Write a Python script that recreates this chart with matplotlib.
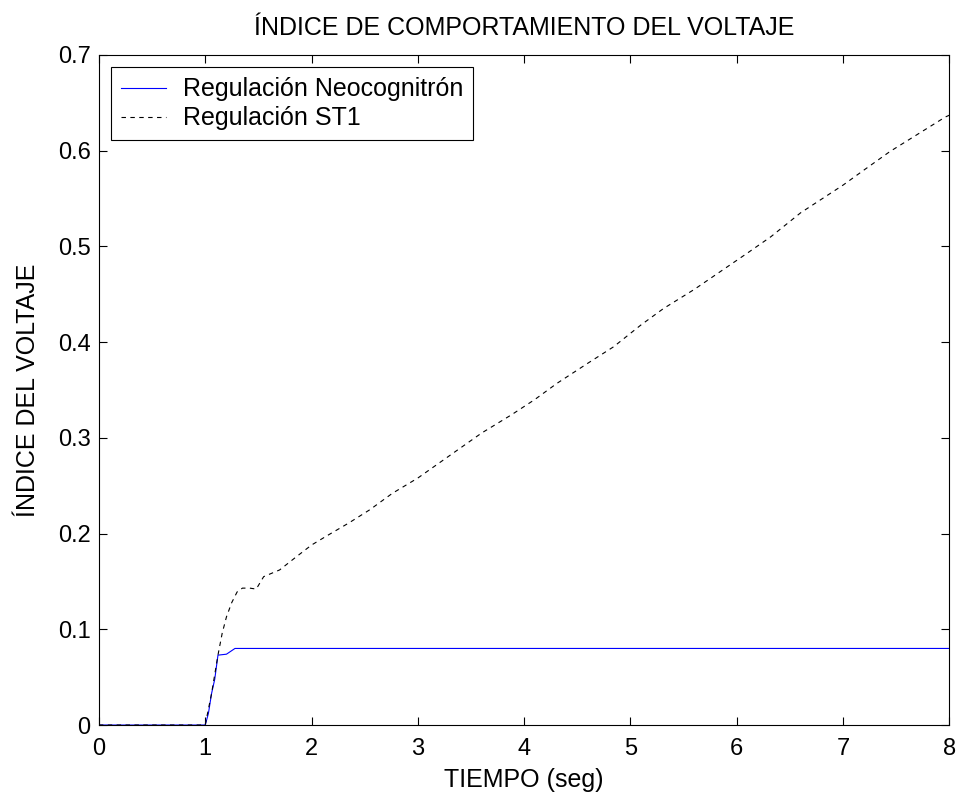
import matplotlib
matplotlib.use("Agg")
import matplotlib.pyplot as plt

plt.rcParams['font.family'] = ['Liberation Sans', 'DejaVu Sans']

# Regulacion Neocognitron
t_neo = [0, 1.0, 1.03, 1.06, 1.09, 1.12, 1.2, 1.28, 8.0]
v_neo = [0, 0, 0.012, 0.033, 0.048, 0.073, 0.074, 0.080, 0.080]

# Regulacion ST1
t_st1 = [0, 1.0, 1.06, 1.12, 1.16, 1.2, 1.25, 1.3, 1.35, 1.42, 1.48, 1.55, 1.7,
         1.86, 2.0, 2.15, 2.35, 2.55, 2.76, 3.0, 3.37, 3.6, 3.88, 4.1, 4.31, 4.6,
         4.84, 5.1, 5.31, 5.6, 5.85, 6.1, 6.32, 6.6, 7.0, 7.2, 7.44, 7.7, 7.96, 8.0]
v_st1 = [0, 0, 0.033, 0.073, 0.096, 0.113, 0.128, 0.139, 0.143, 0.143, 0.142,
         0.155, 0.162, 0.176, 0.188, 0.198, 0.211, 0.225, 0.242, 0.258, 0.287,
         0.305, 0.324, 0.34, 0.357, 0.378, 0.395, 0.418, 0.435, 0.455, 0.474,
         0.493, 0.51, 0.535, 0.564, 0.58, 0.599, 0.617, 0.635, 0.637]

fig = plt.figure(figsize=(9.6, 7.95), dpi=100)
ax = fig.add_axes([0.103, 0.088, 0.886, 0.843])

ax.plot(t_neo, v_neo, color='blue', lw=0.8, label='Regulación Neocognitrón')
ax.plot(t_st1, v_st1, color='black', lw=0.8, dashes=(4, 4), label='Regulación ST1')

ax.set_xlim(0, 8)
ax.set_ylim(0, 0.7)
ax.set_xticks(range(0, 9))
ax.set_yticks([0, 0.1, 0.2, 0.3, 0.4, 0.5, 0.6, 0.7])
ax.set_yticklabels(['0', '0.1', '0.2', '0.3', '0.4', '0.5', '0.6', '0.7'])
ax.tick_params(direction='in', top=True, right=True, labelsize=17, length=6)
ax.tick_params(axis='x', pad=9)
ax.tick_params(axis='y', pad=6)

ax.set_title('ÍNDICE DE COMPORTAMIENTO DEL VOLTAJE', fontsize=18, pad=14)
ax.set_xlabel('TIEMPO (seg)', fontsize=18, labelpad=6)
ax.set_ylabel('ÍNDICE DEL VOLTAJE', fontsize=18, labelpad=13)

leg = ax.legend(loc='upper left', fontsize=18, fancybox=False, framealpha=1,
                edgecolor='black', borderaxespad=0.5, handlelength=1.8,
                borderpad=0.4, labelspacing=0.2, handletextpad=0.65)
leg.get_frame().set_linewidth(0.8)

fig.savefig('out.png', dpi=100)
